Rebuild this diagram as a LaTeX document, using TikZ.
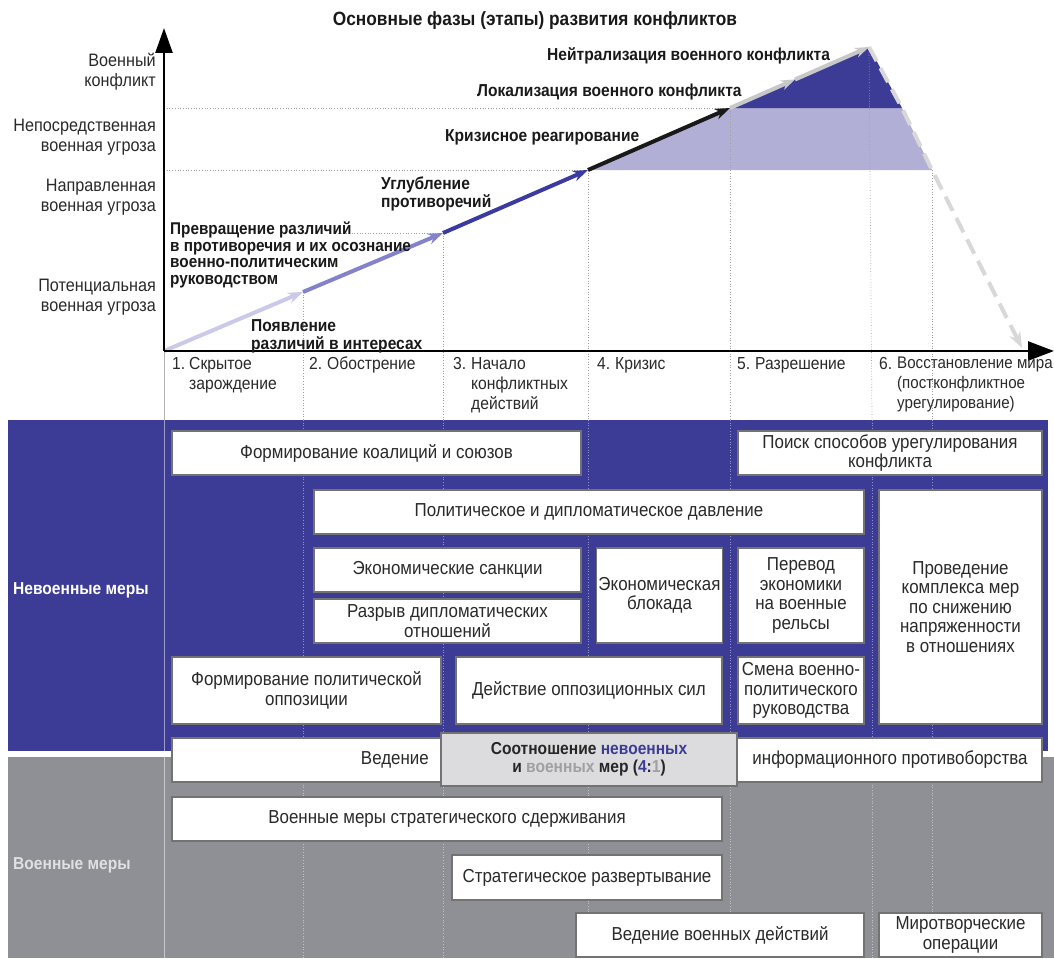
\documentclass[tikz,border=0pt]{standalone}
\usepackage{fontspec}
\setmainfont{Liberation Sans}[FakeStretch=0.9]
\usetikzlibrary{arrows.meta}
\definecolor{navy}{HTML}{3C3C96}
\definecolor{lightpurple}{HTML}{B2AFD7}
\definecolor{panelgray}{HTML}{8F9095}
\definecolor{ratiogray}{HTML}{DCDCDE}
\definecolor{segone}{HTML}{CBC9EA}
\definecolor{segtwo}{HTML}{8582CC}
\definecolor{segthree}{HTML}{3A3AA0}
\definecolor{arrowgray}{HTML}{C8C8C8}
\definecolor{dashgray}{HTML}{D8D8D8}
\definecolor{txt}{HTML}{2A2A2A}
\definecolor{milgray}{HTML}{A0A0A4}
\begin{document}
\begin{tikzpicture}[x=1pt,y=-1pt,
  regfont/.style={font=\fontsize{18.8}{19.5}\selectfont},
  boldfont/.style={font=\fontsize{17.3}{18}\selectfont\bfseries},
  box/.style={draw=black!55, line width=1.1pt, fill=white, inner sep=2pt, align=center, text=txt, regfont},
  ylab/.style={anchor=east, align=right, inner sep=0pt, text=txt, font=\fontsize{18}{20}\selectfont},
  clab/.style={anchor=west, align=left, inner sep=0pt, text=black!90, boldfont},
  phnum/.style={anchor=north west, inner sep=0pt, text=txt, font=\fontsize{17.4}{20}\selectfont},
  phtxt/.style={anchor=north west, align=left, inner sep=0pt, text=txt, font=\fontsize{17.4}{20}\selectfont},
  grid/.style={gray!75, dotted, line width=0.7pt},
  lgrid/.style={white, opacity=0.45, dotted, line width=0.7pt},
  seg/.style={line width=4pt, -{Stealth[length=15pt,width=11pt]}}
]
\useasboundingbox (0,0) rectangle (1054,958);

% ---------- key points ----------
\coordinate (O) at (164,351);
\coordinate (P1) at (303,292);
\coordinate (P2) at (443,233);
\coordinate (P3) at (588,170);
\coordinate (P4) at (730,108);
\coordinate (P5) at (795,79.5);
\coordinate (PK) at (869,47);
\coordinate (R1) at (902,108);
\coordinate (R2) at (932,170);
\coordinate (E) at (1022,348);
\coordinate (Ytop) at (164,28);
\coordinate (Xend) at (1054,351);

% ---------- lower panels ----------
\fill[navy] (8,420) rectangle (1048,751);
\fill[panelgray] (8,757) rectangle (1054,958);

% ---------- filled regions ----------
\fill[lightpurple] (P3) -- (P4) -- (R1) -- (R2) -- cycle;
\fill[navy] (P4) -- (PK) -- (R1) -- cycle;

% ---------- grid lines ----------
\draw[grid] (164,108) -- (P4);
\draw[grid] (164,170) -- (P3);
\draw[grid] (338,233) -- (P2);
\draw[grid] (P1) -- (303,420);
\draw[grid] (P2) -- (443,420);
\draw[grid] (P3) -- (588,420);
\draw[grid] (P4) -- (730,420);
\draw[grid] (PK) -- (872,420);
\draw[grid] (R2) -- (932,420);
\draw[gray!60, line width=0.8pt] (164,351) -- (164,420);
\draw[white, opacity=0.5, line width=0.8pt] (164,420) -- (164,958);
\foreach \xx in {303,443,588,730,872,932}{\draw[lgrid] (\xx,420) -- (\xx,958);}

% ---------- development line ----------
\draw[seg, segone] (O) -- (P1);
\draw[seg, segtwo] (P1) -- (P2);
\draw[seg, segthree] (P2) -- (P3);
\draw[seg, black!90] (P3) -- (P4);
\draw[seg, arrowgray, -{Stealth[length=14pt,width=10pt]}] (P4) -- (P5);
\draw[seg, arrowgray, -{Stealth[length=14pt,width=10pt]}] (P5) -- (PK);
\draw[dashgray, line width=4pt, dash pattern=on 16pt off 8pt, -{Stealth[length=16pt,width=12pt]}] (PK) -- (R1) -- (R2) -- (E);

% ---------- axes ----------
\draw[black, line width=2.6pt, -{Triangle[length=25pt,width=17pt]}] (O) -- (Ytop);
\draw[black, line width=2.6pt, -{Triangle[length=26pt,width=19pt]}] (O) -- (Xend);

% ---------- title ----------
\node[inner sep=0pt, text=black!90, font=\fontsize{19.2}{21}\selectfont\bfseries] (title) at (535,21) {Основные фазы (этапы) развития конфликтов};

% ---------- y-axis labels ----------
\node[ylab] (y1) at (156,72) {Военный\\конфликт};
\node[ylab] (y2) at (156,137.5) {Непосредственная\\военная угроза};
\node[ylab] (y3) at (156,197.5) {Направленная\\военная угроза};
\node[ylab] (y4) at (156,297.5) {Потенциальная\\военная угроза};

% ---------- curve labels ----------
\node[clab] (c1) at (251,336) {Появление\\различий в интересах};
\node[clab, font=\fontsize{17}{16.5}\selectfont\bfseries] (c2) at (170,255) {Превращение различий\\в противоречия и их осознание\\военно-политическим\\руководством};
\node[clab] (c3) at (381,194) {Углубление\\противоречий};
\node[clab] (c4) at (445,137) {Кризисное реагирование};
\node[clab] (c5) at (477,92) {Локализация военного конфликта};
\node[clab] (c6) at (547,56) {Нейтрализация военного конфликта};

% ---------- phase labels ----------
\node[phnum] (n1) at (172,357) {1.};
\node[phtxt] (t1) at (189,357) {Скрытое\\зарождение};
\node[phnum] (n2) at (309,357) {2.};
\node[phtxt] (t2) at (327,357) {Обострение};
\node[phnum] (n3) at (453,357) {3.};
\node[phtxt] (t3) at (471,357) {Начало\\конфликтных\\действий};
\node[phnum] (n4) at (597,357) {4.};
\node[phtxt] (t4) at (615,357) {Кризис};
\node[phnum] (n5) at (737,357) {5.};
\node[phtxt] (t5) at (755,357) {Разрешение};
\node[phnum] (n6) at (879,357) {6.};
\node[phtxt, font=\fontsize{16.8}{20}\selectfont] (t6) at (897,357) {Восстановление мира\\(постконфликтное\\урегулирование)};

% ---------- side labels ----------
\node[anchor=west, inner sep=0pt, text=white, boldfont] (nonmil) at (13,590) {Невоенные меры};
\node[anchor=west, inner sep=0pt, text=white!88!black, boldfont] (mil) at (13,865) {Военные меры};

% ---------- non-military boxes ----------
\node[box, minimum width=409pt, minimum height=44pt] (coal) at (376.5,453) {Формирование коалиций и союзов};
\node[box, minimum width=304pt, minimum height=44pt] (poisk) at (890,453) {Поиск способов урегулирования\\конфликта};
\node[box, minimum width=550pt, minimum height=44pt] (polit) at (589,512) {Политическое и дипломатическое давление};
\node[box, minimum width=163pt, minimum height=234pt] (proved) at (960.5,607) {Проведение\\комплекса мер\\по снижению\\напряженности\\в отношениях};
\node[box, minimum width=267pt, minimum height=44pt] (sank) at (447.5,570) {Экономические санкции};
\node[box, minimum width=267pt, minimum height=44pt] (razryv) at (447.5,621) {Разрыв дипломатических\\отношений};
\node[box, minimum width=125pt, minimum height=95pt] (blok) at (659.5,595.5) {Экономическая\\блокада};
\node[box, minimum width=126pt, minimum height=95pt] (perevod) at (801,595.5) {Перевод\\экономики\\на военные\\рельсы};
\node[box, minimum width=269pt, minimum height=67pt] (formopp) at (306.5,690.5) {Формирование политической\\оппозиции};
\node[box, minimum width=266pt, minimum height=67pt] (deyst) at (589,690.5) {Действие оппозиционных сил};
\node[box, minimum width=126pt, minimum height=67pt] (smena) at (801,690.5) {Смена военно-\\политического\\руководства};

% ---------- information box ----------
\node[box, minimum width=870pt, minimum height=44pt] (info) at (607,760) {};
\node[anchor=east, inner sep=0pt, text=txt, regfont] (ved) at (429,760) {Ведение};
\node[inner sep=0pt, text=txt, regfont] (infotxt) at (890,760) {информационного противоборства};
\node[box, fill=ratiogray, minimum width=296pt, minimum height=53pt, boldfont, text=black!85] (ratio) at (589,759.5) {Соотношение \textcolor{navy}{невоенных}\\и \textcolor{milgray}{военных} мер (\textcolor{navy}{4}:\textcolor{milgray}{1})};

% ---------- military boxes ----------
\node[box, minimum width=550pt, minimum height=44pt] (sderzh) at (447,819) {Военные меры стратегического сдерживания};
\node[box, minimum width=270pt, minimum height=45pt] (razv) at (587,877.5) {Стратегическое развертывание};
\node[box, minimum width=288pt, minimum height=44pt] (vedvd) at (720,935) {Ведение военных действий};
\node[box, minimum width=163pt, minimum height=44pt] (mir) at (960.5,935) {Миротворческие\\операции};
\end{tikzpicture}
\end{document}
